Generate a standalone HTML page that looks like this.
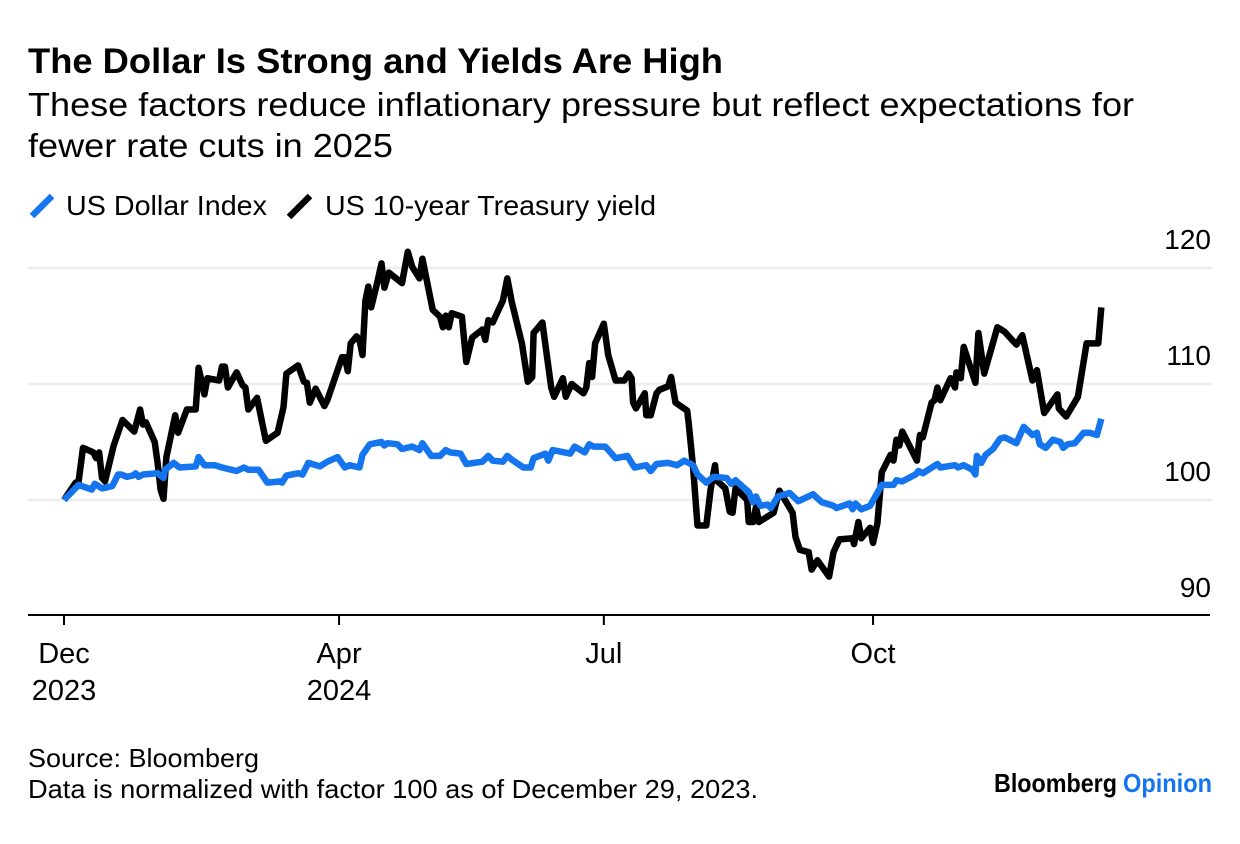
<!DOCTYPE html>
<html lang="en">
<head>
<meta charset="utf-8">
<title>The Dollar Is Strong and Yields Are High</title>
<style>
html,body{margin:0;padding:0;background:#fff;}
svg{display:block;}
text{font-family:"Liberation Sans",sans-serif;fill:#000;}
</style>
</head>
<body>
<svg id="chart" width="1240" height="844" viewBox="0 0 1240 844" xmlns="http://www.w3.org/2000/svg">
<rect width="1240" height="844" fill="#fff"/>
<text x="28" y="73" font-size="35" font-weight="700" textLength="695" lengthAdjust="spacingAndGlyphs">The Dollar Is Strong and Yields Are High</text>
<text x="28" y="116" font-size="33" textLength="1106" lengthAdjust="spacingAndGlyphs">These factors reduce inflationary pressure but reflect expectations for</text>
<text x="28" y="157" font-size="33" textLength="365" lengthAdjust="spacingAndGlyphs">fewer rate cuts in 2025</text>
<g>
<line x1="32" y1="216" x2="52" y2="196" stroke="#1475ee" stroke-width="6.5"/>
<text x="66" y="215" font-size="28" textLength="201" lengthAdjust="spacingAndGlyphs">US Dollar Index</text>
<line x1="289" y1="217" x2="310" y2="196" stroke="#000" stroke-width="6.5"/>
<text x="325" y="215" font-size="28" textLength="331" lengthAdjust="spacingAndGlyphs">US 10-year Treasury yield</text>
</g>
<g id="grid"></g>
<g id="series"></g>
<g id="axis"></g>
<text x="28" y="767" font-size="26" textLength="231" lengthAdjust="spacingAndGlyphs">Source: Bloomberg</text>
<text x="28" y="798" font-size="26" textLength="730" lengthAdjust="spacingAndGlyphs">Data is normalized with factor 100 as of December 29, 2023.</text>
<text x="994" y="792" font-size="26" font-weight="700" textLength="123" lengthAdjust="spacingAndGlyphs">Bloomberg</text>
<text x="1123" y="792" font-size="26" font-weight="700" textLength="89" lengthAdjust="spacingAndGlyphs" style="fill:#1475ee">Opinion</text>
</svg>
<script>
var yTicks = [120, 110, 100, 90];
var xTickDays = [0, 94, 184.5, 276.5];
var xTickMonths = ['Dec', 'Apr', 'Jul', 'Oct'];
var xTickYears = ['2023', '2024', '', ''];
var yieldDays = [0,4,5,6.5,10,11,12,13,14,17,20,22,24,26,27,28,31,32,33,34,35,38,39,42,45,46,48,49,53,54,55,56,59,61,62,63,66,68,69,73,75,76,80,82,83,84,86,89,90,95,96,97,98,100,101,102,103,104,105,107,108.5,109.5,111,115.5,117.5,119,121.5,122.5,126,128.5,129.5,130.5,131.5,132.5,136,137.5,139.5,143,144,145,146.5,150,151.5,153,156.5,158.5,160,160.5,163.5,166.5,167.5,170.5,171.5,173.5,177.5,178.5,179.5,180.5,181.5,184.5,186,188.5,191.5,193,194,194.5,195.5,198.5,199,200.5,202.5,203.5,206.5,207.5,209,213,213.5,215,216.5,219.5,221,222.5,223,226,227.5,228.5,229.5,233.5,234,235.5,236.5,237.5,242.5,244.5,249,250,251.5,254.5,255.5,257.5,261.5,263,265,269.5,270,271.5,272.5,275.5,276.5,278,279.5,282.5,283.5,284.5,285.5,286.5,291.5,292.5,293.5,296.5,297.5,298.5,299.5,303,304.5,305,306.5,307.5,311.5,312.5,314.5,319,321.5,325.5,327.5,331,332.5,335,339.5,340,342.5,346.5,349.5,353.5,354.5];
var yieldValues = [100,101.5,101.6,104.5,104.1,103.6,104.1,101.9,101.6,104.7,106.9,106.4,105.9,107.8,106.5,106.7,105,103.2,100.9,100.1,103.7,107.3,105.8,107.8,107.8,111.4,109.1,110.5,110.3,111.5,111.5,109.7,111,109.9,109.7,107.8,108.8,106.3,105.1,105.8,108,110.9,111.6,110.2,110.1,108.4,109.6,108.1,108.6,112.3,112.3,111.1,113.5,114.1,113.8,112.5,117.2,118.4,116.6,118.7,120.4,118.3,119.6,118.7,121.4,120.1,119.1,120.8,116.4,115.8,114.9,115.9,114.9,116.1,115.8,111.9,114,114.7,113.8,115.5,115.3,117.2,119.1,117.1,113.5,110.2,110.6,114.4,115.3,109.7,108.9,110.5,108.9,110,109.2,109.7,111.8,110.6,113.5,115.2,112.5,110.3,110.3,110.9,110.5,108.4,107.9,109.2,107.3,107.3,109.2,109.5,109.8,110.6,108.4,107.7,106.6,102.8,97.8,97.8,100.9,103,101.7,101,99,98.9,101,100,98.1,98.1,99.4,98.1,98.9,100.8,98.9,96.8,95.7,95.5,94,94.8,93.4,95.5,96.6,96.7,96.2,98.1,96.7,97.6,96.3,98,102.4,103.9,103.4,105.2,104.7,105.9,103.4,105.6,105.4,108.4,108.6,109.7,108.6,110.5,109.7,111,110.5,113.2,110.1,114.4,110.9,114.9,114.5,113.4,114.2,110.3,111.2,107.5,109.1,107.9,107.2,108.9,113.5,113.5,116.6];
var dollarDays = [0,5,9.5,10.5,13,16.5,18.5,19.5,21.5,23.5,24.5,25.5,27,32,34,34.5,37.5,39.5,45,46,48,51.5,54,59,61.5,63,66.5,69.5,74,74.5,76,80,81.5,83.5,87.5,90,93.5,96,97.5,101,102,104.5,108.5,109.5,110.5,114,115.5,119,121.5,122.5,125.5,128.5,130.5,132,135.5,137.5,143,145,146.5,150,151.5,153.5,157,159.5,160.5,164.5,165.5,167,173,174.5,178,179.5,181,185,188.5,192.5,195,199,200.5,202.5,206.5,209.5,212,215,216.5,219.5,222,226.5,228,229.5,234,235.5,236.5,238,240.5,241.5,244,248,251,256,259,263,264,268.5,269.5,270.5,272.5,275.5,279.5,283.5,284.5,286.5,291,292,293.5,298.5,299.5,304.5,305.5,307.5,310.5,311.5,312,313.5,315,317.5,320,321.5,325.5,328,331,332.5,333.5,335.5,338,340.5,341.5,343,345.5,348.5,350.5,353,354.5];
var dollarValues = [100,101.3,100.9,101.4,101,101.2,102.2,102.2,102,102.1,102.3,102,102.2,102.3,101.9,102.6,103.2,102.8,102.9,103.7,103,103,102.8,102.5,102.8,102.6,102.6,101.5,101.6,101.5,102.1,102.3,102.2,103.2,102.9,103.3,103.7,102.8,103,102.8,103.9,104.8,105,104.7,104.9,104.8,104.4,104.6,104.3,104.9,103.8,103.8,104.3,104.1,104,103.1,103.3,103.8,103.4,103.3,103.8,103.4,102.8,102.8,103.6,104,103.4,104.3,104,104.6,104.1,104.8,104.6,104.6,103.6,103.8,102.8,103,102.5,103.1,103.2,103,103.4,103,102.2,101.5,102,101.9,101.4,101.7,100.7,99.8,100.3,99.5,99.6,99.3,100.3,100.6,99.9,100.5,99.8,99.5,99.3,99.7,99.2,99.7,99.2,99.5,101.3,101.3,101.7,101.6,102.2,102.5,102.3,103.1,102.8,103,102.8,103,102.6,102.2,103.8,103.2,103.9,104.4,105.3,105.4,104.9,106.3,105.6,105.8,104.8,104.5,105.2,105,104.5,104.8,104.9,105.8,105.8,105.6,107];

var NS = 'http://www.w3.org/2000/svg';
function xScale(day) { return 64 + day * 2.926; }
function yScale(value) { return 500 - (value - 100) * 11.6; }
function pathFrom(days, values) {
  return days.map(function (d, i) {
    return (i ? 'L' : 'M') + xScale(d).toFixed(1) + ' ' + yScale(values[i]).toFixed(1);
  }).join('');
}

var grid = document.getElementById('grid');
yTicks.forEach(function (t) {
  if (t !== 90) {
    var g = document.createElementNS(NS, 'line');
    
    
    g.setAttribute('x1', 28); g.setAttribute('x2', 1212);
    g.setAttribute('y1', yScale(t)); g.setAttribute('y2', yScale(t));
    g.setAttribute('stroke', '#eeeeee'); g.setAttribute('stroke-width', 2.5);
    grid.appendChild(g);
  }
  var l = document.createElementNS(NS, 'text');
  
  
  l.setAttribute('x', 1211); l.setAttribute('y', yScale(t) - 19);
  l.setAttribute('text-anchor', 'end'); l.setAttribute('font-size', 28);
  l.textContent = String(t);
  grid.appendChild(l);
});

var series = document.getElementById('series');
var yieldLine = document.createElementNS(NS, 'path');


yieldLine.setAttribute('d', pathFrom(yieldDays, yieldValues));
yieldLine.setAttribute('fill', 'none'); yieldLine.setAttribute('stroke', '#000');
yieldLine.setAttribute('stroke-width', 6.5); yieldLine.setAttribute('stroke-linejoin', 'round');
series.appendChild(yieldLine);
var dollarLine = document.createElementNS(NS, 'path');


dollarLine.setAttribute('d', pathFrom(dollarDays, dollarValues));
dollarLine.setAttribute('fill', 'none'); dollarLine.setAttribute('stroke', '#1475ee');
dollarLine.setAttribute('stroke-width', 6.5); dollarLine.setAttribute('stroke-linejoin', 'round');
series.appendChild(dollarLine);

var axis = document.getElementById('axis');
var base = document.createElementNS(NS, 'line');


base.setAttribute('x1', 28); base.setAttribute('x2', 1210);
base.setAttribute('y1', 615); base.setAttribute('y2', 615);
base.setAttribute('stroke', '#000'); base.setAttribute('stroke-width', 2);
axis.appendChild(base);
xTickDays.forEach(function (d, i) {
  var x = xScale(d);
  var t = document.createElementNS(NS, 'line');
  
  
  t.setAttribute('x1', x); t.setAttribute('x2', x);
  t.setAttribute('y1', 615); t.setAttribute('y2', 625);
  t.setAttribute('stroke', '#000'); t.setAttribute('stroke-width', 2);
  axis.appendChild(t);
  var m = document.createElementNS(NS, 'text');
  
  
  m.setAttribute('x', x); m.setAttribute('y', 663);
  m.setAttribute('text-anchor', 'middle'); m.setAttribute('font-size', 29);
  m.textContent = xTickMonths[i];
  axis.appendChild(m);
  if (xTickYears[i]) {
    var yr = document.createElementNS(NS, 'text');
    
    
    yr.setAttribute('x', x); yr.setAttribute('y', 700);
    yr.setAttribute('text-anchor', 'middle'); yr.setAttribute('font-size', 29);
    yr.textContent = xTickYears[i];
    axis.appendChild(yr);
  }
});
</script>
</body>
</html>
